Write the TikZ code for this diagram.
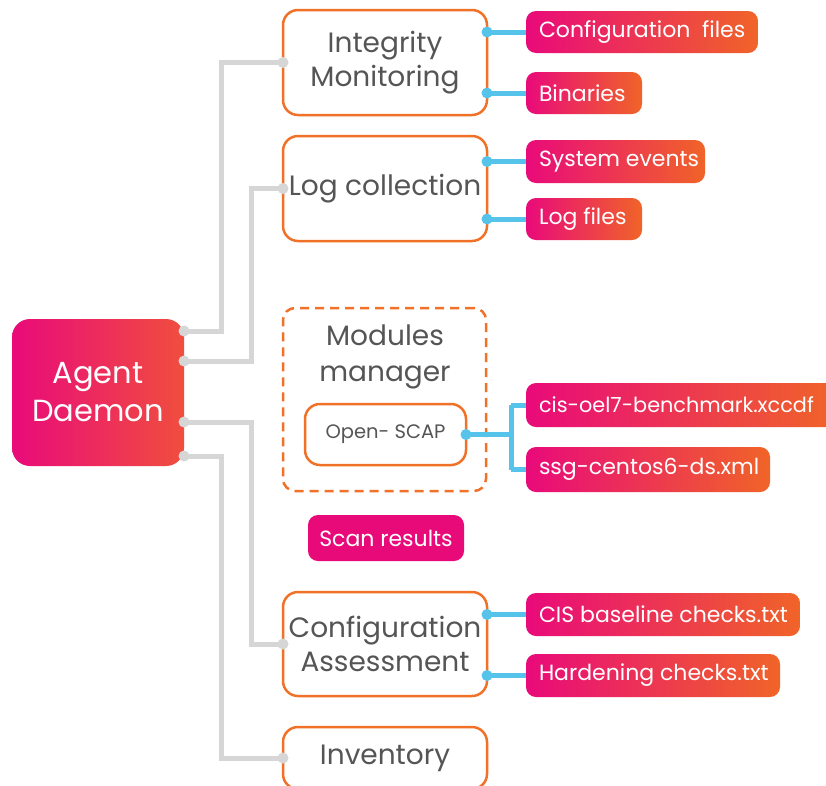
\documentclass[tikz,border=0pt]{standalone}
\usepackage{fontspec}
\setmainfont{Poppins}
\usetikzlibrary{calc}
\definecolor{pinkL}{RGB}{233,10,122}
\definecolor{pinkR}{RGB}{240,100,40}
\definecolor{orangeB}{RGB}{240,113,39}
\definecolor{txtgray}{RGB}{85,85,85}
\definecolor{lgray}{RGB}{214,214,214}
\definecolor{cyanL}{RGB}{86,195,234}
\newcommand{\lbl}[2]{\makebox[#1][l]{#2}}
\tikzset{
  every node/.style={outer sep=0pt, inner sep=0pt},
  modbox/.style={draw=orangeB, line width=2.5pt, rounded corners=15pt, fill=white,
    text=txtgray, align=center, font=\fontsize{28}{34}\selectfont, anchor=north west},
  pinkbox/.style={rounded corners=10pt, left color=pinkL, right color=pinkR,
    text=white, font=\fontsize{22}{26}\selectfont, anchor=north west,
    inner xsep=13pt},
  grayline/.style={draw=lgray, line width=5pt},
  blueline/.style={draw=cyanL, line width=5pt},
  graydot/.style={fill=lgray},
  bluedot/.style={fill=cyanL},
}
\begin{document}
\begin{tikzpicture}[x=1pt,y=-1pt]
\clip (0,0) rectangle (826,785);
\useasboundingbox (0,0) rectangle (826,785);
\fill[white] (0,0) rectangle (826,785);

% Agent daemon
\node[rounded corners=18pt, left color=pinkL, right color={rgb,255:red,240;green,78;blue,62},
  minimum width=172pt, minimum height=147pt, anchor=north west, text=white, align=center,
  font=\fontsize{30.5}{38}\selectfont] (daemon) at (12,319) {Agent\\Daemon};

% module boxes
\node[modbox, minimum width=204pt, minimum height=105pt] (im) at (283,10) {Integrity\\Monitoring};
\node[modbox, minimum width=204pt, minimum height=105pt] (lc) at (283,136) {Log collection};
\node[draw=orangeB, line width=2.5pt, dash pattern=on 9pt off 6pt, rounded corners=12pt,
  minimum width=203pt, minimum height=183pt, anchor=north west] (mm) at (283,308) {};
\node[text=txtgray, align=center, font=\fontsize{28}{36}\selectfont] (mmt) at (385,357) {Modules\\manager};
\node[modbox, minimum width=161pt, minimum height=61pt, font=\fontsize{19.5}{22}\selectfont] (os) at (305,404) {Open- SCAP};
\node[modbox, minimum width=204pt, minimum height=104pt] (ca) at (283,592) {Configuration\\Assessment};
\node[modbox, minimum width=204pt, minimum height=62pt] (inv) at (283,727) {Inventory};

% pink labels
\node[pinkbox, minimum height=42pt] (cf) at (526,11) {\lbl{206pt}{Configuration\ \ files}};
\node[pinkbox, minimum height=42pt] (bin) at (526,72) {\lbl{90pt}{Binaries}};
\node[pinkbox, minimum height=43pt] (se) at (526,140) {\lbl{153pt}{System events}};
\node[pinkbox, minimum height=42pt] (lf) at (526,198) {\lbl{90pt}{Log files}};
\node[pinkbox, minimum height=44pt] (cis) at (526,383) {\lbl{284pt}{\fontsize{20.8}{26}\selectfont cis-oel7-benchmark.xccdf}};
\node[pinkbox, minimum height=45pt] (ssg) at (526,447) {\lbl{218pt}{ssg-centos6-ds.xml}};
\node[rounded corners=10pt, fill=pinkL, text=white, font=\fontsize{22}{26}\selectfont,
  anchor=north west, minimum width=156pt, minimum height=46pt] (scan) at (308,515) {Scan results};
\node[pinkbox, minimum height=43pt] (cbl) at (526,593) {\lbl{248pt}{CIS baseline checks.txt}};
\node[pinkbox, minimum height=43pt] (hard) at (526,654) {\lbl{228pt}{Hardening checks.txt}};

% gray connectors
\coordinate (d1) at ($(daemon.north east)+(0,12)$);
\coordinate (d2) at ($(daemon.north east)+(0,42)$);
\coordinate (d3) at ($(daemon.north east)+(0,103)$);
\coordinate (d4) at ($(daemon.north east)+(0,137)$);
\draw[grayline] (d1) -- ++(37,0) |- (im.west);
\draw[grayline] (d2) -- ++(67,0) |- (lc.west);
\draw[grayline] (d3) -- ++(67,0) |- (ca.west);
\draw[grayline] (d4) -- ++(37,0) |- (inv.west);
\foreach \p in {d1,d2,d3,d4,im.west,lc.west,ca.west,inv.west}
  \fill[graydot] (\p) circle (5.5pt);

% blue connectors
\foreach \s/\t in {im/cf, im/bin, lc/se, lc/lf, ca/cbl, ca/hard} {
  \draw[blueline] (\s.east |- \t.west) -- (\t.west);
  \fill[bluedot] (\s.east |- \t.west) circle (5.5pt);
}
\draw[blueline] (os.east) -- ++(45,0) coordinate (j);
\draw[blueline] (j |- cis.west) -- (cis.west);
\draw[blueline] (j |- ssg.west) -- (ssg.west);
\draw[blueline] (j |- cis.west) -- (j |- ssg.west);
\fill[bluedot] (os.east) circle (5.5pt);
\end{tikzpicture}
\end{document}
